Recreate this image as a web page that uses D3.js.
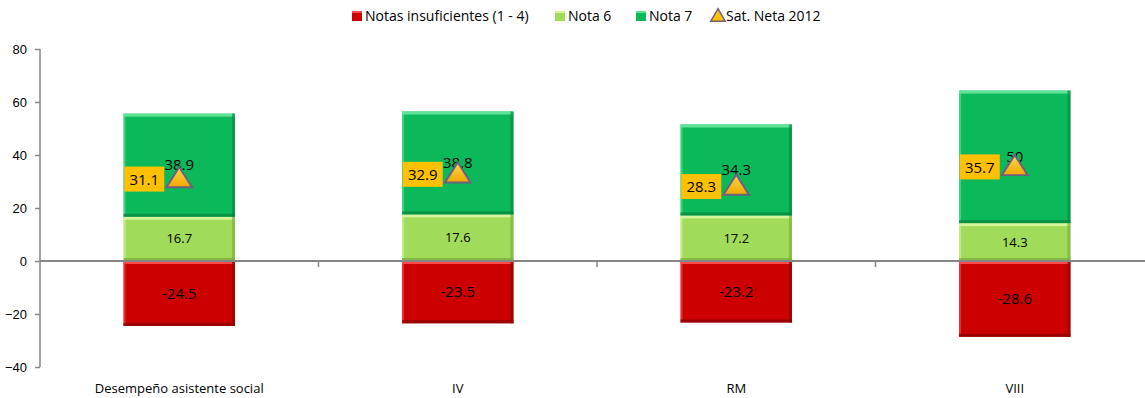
<!DOCTYPE html>
<html>
<head>
<meta charset="utf-8">
<script src="https://cdn.jsdelivr.net/npm/d3@7"></script>
<style>
  body { margin: 0; background: #fff; }
  svg { display: block; font-family: "Open Sans", "Liberation Sans", sans-serif; }
</style>
</head>
<body>
<div id="chart"></div>
<script>
// categories and series
const CATEGORIES = ["Desempeño asistente social", "IV", "RM", "VIII"];
const NOTAS_INSUF = [-24.5, -23.5, -23.2, -28.6];
const NOTA_6 = [16.7, 17.6, 17.2, 14.3];
const NOTA_7 = [38.9, 38.8, 34.3, 50];
const SAT_NETA = [31.1, 32.9, 28.3, 35.7];
const Y_TICKS = [-40, -20, 0, 20, 40, 60, 80];

const SERIES = [
  { name: "Notas insuficientes (1 - 4)", color: "#cc0000", light: "#ff4a4a", dark: "#8e0000" },
  { name: "Nota 6", color: "#a0dc5a", light: "#d4f59a", dark: "#79b03c" },
  { name: "Nota 7", color: "#0cb95a", light: "#5fe497", dark: "#078a40" },
];

const totalW = 1145, totalH = 398;
const margin = { top: 49, right: -9, bottom: 31, left: 40 };
const W = totalW - margin.left - margin.right;
const H = totalH - margin.top - margin.bottom;

const svg = d3.select("#chart").append("svg")
  .attr("width", totalW).attr("height", totalH);
const g = svg.append("g").attr("transform", `translate(${margin.left},${margin.top})`);

const x = d3.scaleBand().domain(CATEGORIES).range([0, W]).paddingInner(0.6).paddingOuter(0.3);
const y = d3.scaleLinear().domain([-40, 80]).range([H, 0]);

/* ── Y axis ── */
g.append("g")
  .call(d3.axisLeft(y).tickValues(Y_TICKS).tickSize(5).tickPadding(8).tickFormat(d3.format("d")))
  .call(ax => {
    ax.select(".domain").attr("stroke", "#868686").attr("stroke-width", 1.5).attr("d", `M0,0V${H}`);
    ax.selectAll("line").attr("stroke", "#868686").attr("stroke-width", 1.5);
    ax.selectAll("text").attr("font-size", 13).attr("fill", "#000");
  });

/* ── stacked segments ── */
const rows = CATEGORIES.map((c, i) => [
  { cat: c, s: 0, y0: NOTAS_INSUF[i], y1: 0, v: NOTAS_INSUF[i], fs: 15 },
  { cat: c, s: 1, y0: 0, y1: NOTA_6[i], v: NOTA_6[i], fs: 13 },
  { cat: c, s: 2, y0: NOTA_6[i], y1: NOTA_6[i] + NOTA_7[i], v: NOTA_7[i], fs: 15 },
]).flat();

const bw = x.bandwidth();
const seg = g.selectAll(".seg").data(rows).join("g").attr("class", "seg")
  .attr("transform", d => `translate(${x(d.cat)},${y(d.y1)})`);

seg.append("rect")
  .attr("width", bw).attr("height", d => y(d.y0) - y(d.y1))
  .attr("fill", d => SERIES[d.s].color);
// bevel: light top, dark bottom/right edges
seg.append("rect").attr("width", bw).attr("height", 3)
  .attr("fill", d => SERIES[d.s].light);
seg.append("rect").attr("x", 0).attr("width", 2).attr("height", d => y(d.y0) - y(d.y1))
  .attr("fill", d => SERIES[d.s].light).attr("opacity", 0.6);
seg.append("rect").attr("x", bw - 3).attr("width", 3).attr("height", d => y(d.y0) - y(d.y1))
  .attr("fill", d => SERIES[d.s].dark).attr("opacity", 0.7);
seg.append("rect").attr("y", d => y(d.y0) - y(d.y1) - 3).attr("width", bw).attr("height", 3)
  .attr("fill", d => SERIES[d.s].dark).attr("opacity", 0.8);

/* ── zero axis with category ticks ── */
g.append("line").attr("x1", 0).attr("x2", W).attr("y1", y(0)).attr("y2", y(0))
  .attr("stroke", "#868686").attr("stroke-width", 2);
const boundary = d => x(d) - (x.step() - bw) / 2;
g.selectAll(".cattick").data(CATEGORIES.slice(1)).join("line")
  .attr("x1", boundary).attr("x2", boundary)
  .attr("y1", y(0)).attr("y2", y(0) + 6)
  .attr("stroke", "#868686").attr("stroke-width", 1.5);

/* ── segment labels ── */
seg.append("text")
  .attr("x", bw / 2).attr("y", d => (y(d.y0) - y(d.y1)) / 2)
  .attr("dy", "0.35em").attr("text-anchor", "middle")
  .attr("font-size", d => d.fs).attr("fill", "#000")
  .text(d => d.v);

/* ── category labels ── */
g.selectAll(".catlab").data(CATEGORIES).join("text")
  .attr("x", d => x(d) + bw / 2).attr("y", H + 26)
  .attr("text-anchor", "middle").attr("font-size", 13).attr("fill", "#000")
  .text(d => d);

/* ── Sat. Neta 2012 markers ── */
const tri = d3.symbol().type(d3.symbolTriangle).size(260);
const defs = svg.append("defs");
const tg = defs.append("linearGradient").attr("id", "tri").attr("x1", 0).attr("y1", 0).attr("x2", 0).attr("y2", 1);
tg.append("stop").attr("offset", 0).attr("stop-color", "#ffd64a");
tg.append("stop").attr("offset", 1).attr("stop-color", "#f0a800");

const mk = g.selectAll(".sat").data(CATEGORIES.map((c, i) => ({ cat: c, v: SAT_NETA[i] })))
  .join("g").attr("class", "sat")
  .attr("transform", d => `translate(${x(d.cat) + bw / 2},${y(d.v)})`);
mk.append("path").attr("d", tri).attr("transform", "translate(0,2) scale(1.05,0.95)")
  .attr("fill", "url(#tri)").attr("stroke", "#6f5f80").attr("stroke-width", 2);
mk.append("rect").attr("x", -55).attr("y", -12).attr("width", 40).attr("height", 25)
  .attr("fill", "#ffc000");
mk.append("text").attr("x", -35).attr("y", 1).attr("dy", "0.35em")
  .attr("text-anchor", "middle").attr("font-size", 15).attr("fill", "#000")
  .text(d => d.v);

/* ── legend ── */
const legend = svg.append("g").attr("transform", "translate(0,16)");
const items = [
  { x: 352, label: SERIES[0].name, s: SERIES[0] },
  { x: 555, label: SERIES[1].name, s: SERIES[1] },
  { x: 636, label: SERIES[2].name, s: SERIES[2] },
];
items.forEach(it => {
  legend.append("rect").attr("x", it.x).attr("y", -5).attr("width", 10).attr("height", 10).attr("fill", it.s.color);
  legend.append("rect").attr("x", it.x).attr("y", -5).attr("width", 10).attr("height", 2).attr("fill", it.s.light);
  legend.append("text").attr("x", it.x + 13).attr("y", 0).attr("dy", "0.35em")
    .attr("font-size", 14).attr("fill", "#000").text(it.label);
});
legend.append("path").attr("d", d3.symbol().type(d3.symbolTriangle).size(90))
  .attr("transform", "translate(718,1)")
  .attr("fill", "#ffc000").attr("stroke", "#6f5f80").attr("stroke-width", 1.5);
legend.append("text").attr("x", 726).attr("y", 0).attr("dy", "0.35em")
  .attr("font-size", 14).attr("fill", "#000").text("Sat. Neta 2012");
</script>
</body>
</html>
